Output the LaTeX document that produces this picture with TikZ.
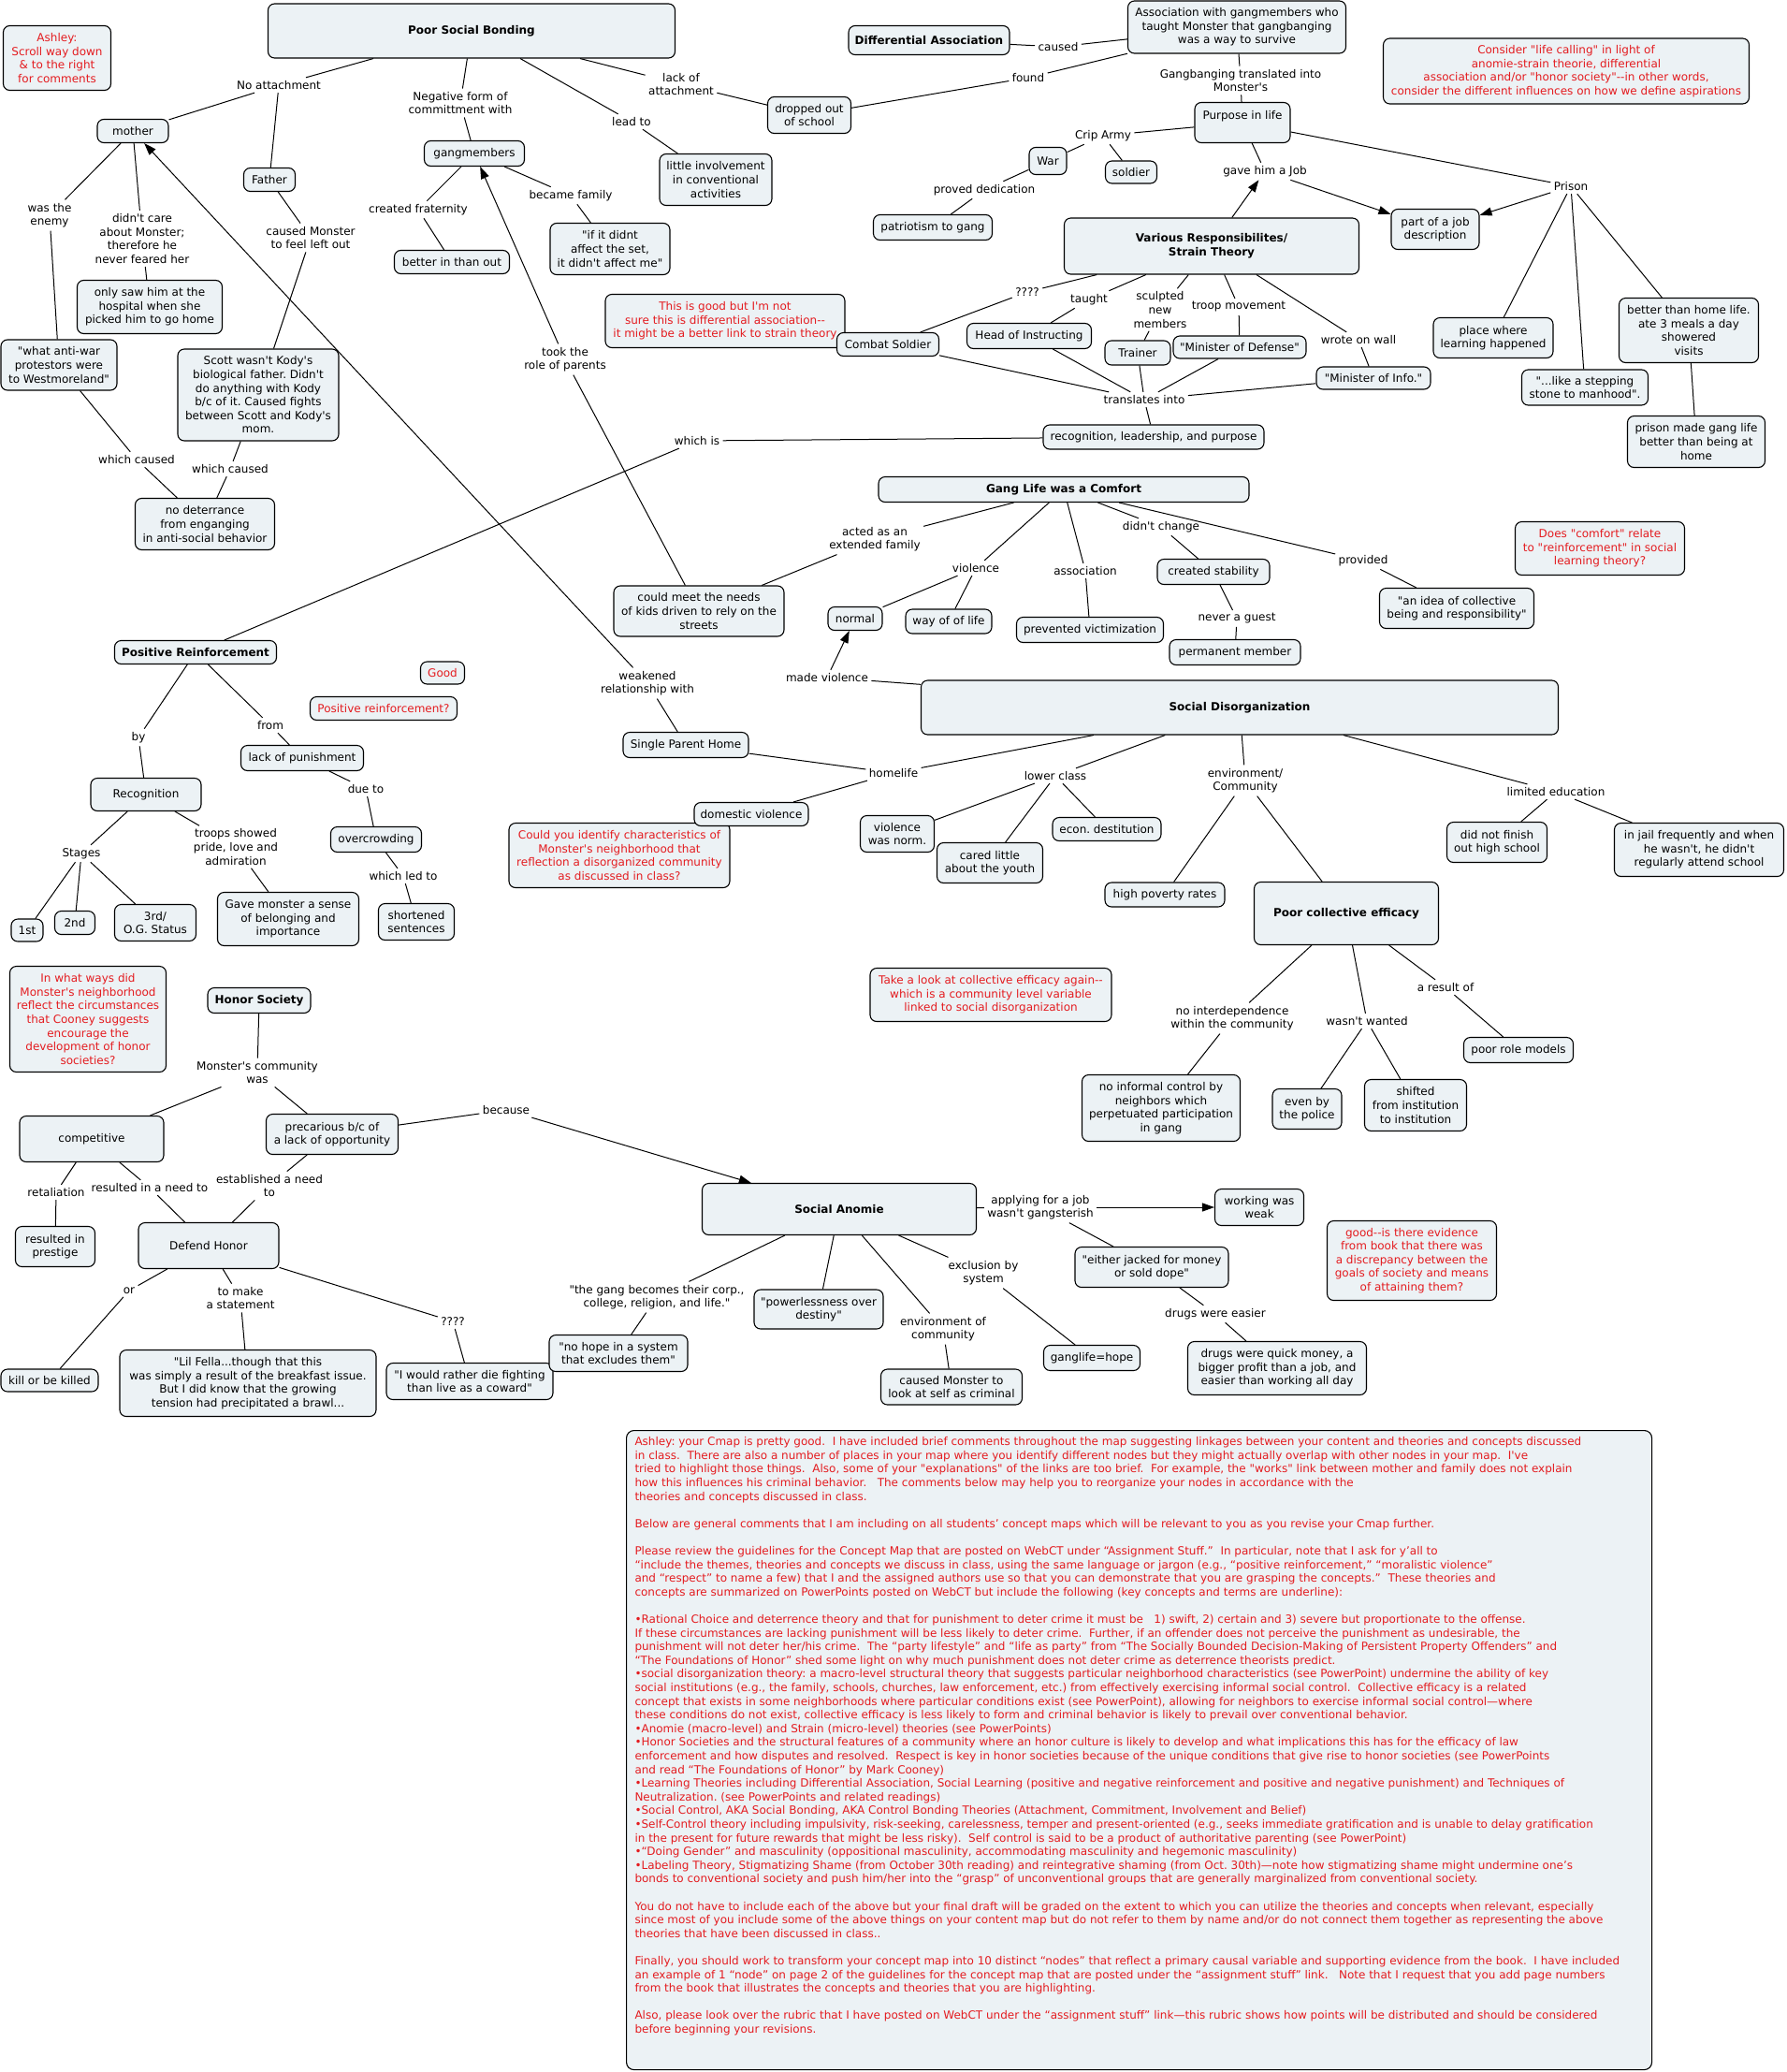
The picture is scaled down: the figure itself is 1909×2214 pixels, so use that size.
\documentclass[tikz,border=0pt]{standalone}
\usepackage{fontspec}
\usetikzlibrary{arrows.meta}
\newfontfamily\mapfont{DejaVu Sans}
\definecolor{nodefill}{RGB}{236,242,245}
\definecolor{notered}{RGB}{228,28,32}
\frenchspacing

\tikzset{every picture/.style={line width=1pt}}
\tikzset{
  concept/.style={draw, rounded corners=7pt, fill=nodefill, line width=1.1pt, align=center, inner sep=2pt, font=\mapfont\fontsize{12}{14.6}\selectfont},
  headbox/.style={concept, font=\mapfont\fontsize{12}{14.6}\selectfont\bfseries},
  redbox/.style={concept, text=notered},
  phrase/.style={align=center, inner sep=3pt, font=\mapfont\fontsize{12}{14.6}\selectfont},
  sz/.style 2 args={minimum width=#1pt, minimum height=#2pt},
  cline/.style={draw, line width=1pt},
  carrow/.style={cline, -{Triangle[length=13pt,width=9pt]}},
}

\begin{document}
\begin{tikzpicture}[x=1pt,y=1pt,yscale=-1,xscale=1]
\useasboundingbox (0,0) rectangle (1909,2214);

% Comment Nodes
\node [redbox, sz={115}{69}] (askscroll) at (61,62) {Ashley:\\Scroll way down\\\& to the right\\for comments};
\node [redbox, sz={391}{70}] (asklife) at (1674,76) {Consider "life calling" in light of\\anomie-strain theorie, differential\\association and/or "honor society"-{}-in other words,\\consider the different influences on how we define aspirations};
\node [redbox, sz={256}{57}] (askdiff) at (775,343) {This is good but I'm not\\sure this is differential association-{}-\\it might be a better link to strain theory};
\node [redbox, sz={181}{57}] (askcomfort) at (1710,586) {Does "comfort" relate\\to "reinforcement" in social\\learning theory?};
\node [redbox, sz={236}{69}] (askneigh) at (662,914) {Could you identify characteristics of\\Monster's neighborhood that\\reflection a disorganized community\\as discussed in class?};
\node [redbox, sz={47}{24}] (askgood) at (473,719) {Good};
\node [redbox, sz={157}{25}] (askposreinf) at (410,757) {Positive reinforcement?};
\node [redbox, sz={167}{113}] (askhonor) at (94,1089) {In what ways did\\Monster's neighborhood\\reflect the circumstances\\that Cooney suggests\\encourage the\\development of honor\\societies?};
\node [redbox, sz={258}{57}] (askefficacy) at (1059,1063) {Take a look at collective efficacy again-{}-\\which is a community level variable\\linked to social disorganization};
\node [redbox, sz={181}{85}] (askgoals) at (1509,1347) {good-{}-is there evidence\\from book that there was\\a discrepancy between the\\goals of society and means\\of attaining them?};

% Poor Social Bonding
\node [headbox, sz={435}{58}] (psb) at (504,33) {Poor Social Bonding};
\node [concept, sz={76}{25}] (mother) at (142,140) {mother};
\node [concept, sz={55}{25}] (father) at (288,192) {Father};
\node [concept, sz={107}{27}] (gangm) at (507,164) {gangmembers};
\node [concept, sz={123}{25}] (betterin) at (483,280) {better in than out};
\node [concept, sz={128}{55}] (ifit) at (652,266) {"if it didnt\\affect the set,\\it didn't affect me"};
\node [concept, sz={155}{57}] (onlysaw) at (160,328) {only saw him at the\\hospital when she\\picked him to go home};
\node [concept, sz={124}{54}] (antiwar) at (63,390) {"what anti-war\\protestors were\\to Westmoreland"};
\node [concept, sz={172}{98}] (scott) at (276,422) {Scott wasn't Kody's\\biological father. Didn't\\do anything with Kody\\b/c of it. Caused fights\\between Scott and Kody's\\mom.};
\node [concept, sz={149}{55}] (nodeter) at (219,560) {no deterrance\\from enganging\\in anti-social behavior};
\node [concept, sz={89}{39}] (dropped) at (865,123) {dropped out\\of school};
\node [concept, sz={120}{55}] (involve) at (765,192) {little involvement\\in conventional\\activities};

% Differential Association
\node [headbox, sz={172}{31}] (diffassoc) at (993,43) {Differential Association};
\node [concept, sz={233}{56}] (assocbox) at (1322,29) {Association with gangmembers who\\taught Monster that gangbanging\\was a way to survive};
\node [concept, sz={102}{43}, text depth=17pt] (purpose) at (1328,131) {Purpose in life};
\node [concept, sz={40}{29}] (war) at (1120,172) {War};
\node [concept, sz={55}{24}] (soldier) at (1209,184) {soldier};
\node [concept, sz={127}{27}] (patriot) at (997,243) {patriotism to gang};
\node [concept, sz={94}{43}] (jobdesc) at (1534,245) {part of a job\\description};
\node [concept, sz={128}{43}] (learning) at (1596,361) {place where\\learning happened};
\node [concept, sz={135}{38}] (stepping) at (1694,414) {"...like a stepping\\stone to manhood".};
\node [concept, sz={149}{69}] (homelife) at (1805,353) {better than home life.\\ate 3 meals a day\\showered\\visits};
\node [concept, sz={147}{55}] (prisonmade) at (1813,472) {prison made gang life\\better than being at\\home};

% Various Responsibilites
\node [headbox, sz={315}{60}] (strain) at (1295,263) {Various Responsibilites/\\Strain Theory};
\node [concept, sz={109}{25}] (combat) at (949,368) {Combat Soldier};
\node [concept, sz={133}{27}] (instruct) at (1100,359) {Head of Instructing};
\node [concept, sz={70}{26}] (trainer) at (1216,377) {Trainer};
\node [concept, sz={142}{24}] (defense) at (1325,371) {"Minister of Defense"};
\node [concept, sz={122}{24}] (info) at (1468,404) {"Minister of Info."};
\node [concept, sz={236}{26}] (recog) at (1233,467) {recognition, leadership, and purpose};

% Gang Life was a Comfort
\node [headbox, sz={396}{27}] (comfort) at (1137,523) {Gang Life was a Comfort};
\node [concept, sz={182}{54}] (needs) at (747,653) {could meet the needs\\of kids driven to rely on the\\streets};
\node [concept, sz={58}{25}] (normal) at (914,661) {normal};
\node [concept, sz={92}{26}] (wayoflife) at (1014,664) {way of of life};
\node [concept, sz={157}{27}] (victim) at (1165,673) {prevented victimization};
\node [concept, sz={120}{27}] (stability) at (1297,611) {created stability};
\node [concept, sz={140}{27}] (permanent) at (1320,697) {permanent member};
\node [concept, sz={165}{43}] (collective) at (1557,650) {"an idea of collective\\being and responsibility"};

% Social Disorganization
\node [headbox, sz={681}{58}] (disorg) at (1325,756) {Social Disorganization};
\node [concept, sz={134}{27}] (single) at (733,796) {Single Parent Home};
\node [concept, sz={122}{25}] (domestic) at (803,870) {domestic violence};
\node [concept, sz={79}{39}] (violnorm) at (959,891) {violence\\was norm.};
\node [concept, sz={113}{43}] (youth) at (1058,922) {cared little\\about the youth};
\node [concept, sz={116}{25}] (econ) at (1183,886) {econ. destitution};
\node [concept, sz={128}{26}] (poverty) at (1245,956) {high poverty rates};
\node [concept, sz={107}{43}] (finish) at (1600,900) {did not finish\\out high school};
\node [concept, sz={181}{57}] (jail) at (1816,908) {in jail frequently and when\\he wasn't, he didn't\\regularly attend school};
\node [headbox, sz={197}{67}] (efficacy) at (1439,976) {Poor collective efficacy};
\node [concept, sz={169}{71}] (informal) at (1241,1184) {no informal control by\\neighbors which\\perpetuated participation\\in gang};
\node [concept, sz={74}{43}] (police) at (1397,1185) {even by\\the police};
\node [concept, sz={109}{55}] (shifted) at (1513,1181) {shifted\\from institution\\to institution};
\node [concept, sz={117}{27}] (rolemodels) at (1623,1122) {poor role models};

% Positive Reinforcement
\node [headbox, sz={173}{25}] (posreinf) at (209,697) {Positive Reinforcement};
\node [concept, sz={131}{27}] (lackpun) at (323,810) {lack of punishment};
\node [concept, sz={118}{35}] (recognition) at (156,849) {Recognition};
\node [concept, sz={97}{27}] (overcrowd) at (402,897) {overcrowding};
\node [concept, sz={34}{24}] (first) at (29,994) {1st};
\node [concept, sz={43}{25}] (second) at (80,986) {2nd};
\node [concept, sz={87}{39}] (third) at (166,986) {3rd/\\O.G. Status};
\node [concept, sz={151}{57}] (belonging) at (308,982) {Gave monster a sense\\of belonging and\\importance};
\node [concept, sz={81}{39}] (shortened) at (445,985) {shortened\\sentences};

% Honor Society
\node [headbox, sz={110}{27}] (honor) at (277,1069) {Honor Society};
\node [concept, sz={154}{49}] (competitive) at (98,1217) {competitive};
\node [concept, sz={141}{43}] (precarious) at (355,1212) {precarious b/c of\\a lack of opportunity};
\node [concept, sz={85}{43}] (prestige) at (59,1332) {resulted in\\prestige};
\node [concept, sz={150}{49}] (defend) at (223,1331) {Defend Honor};
\node [concept, sz={104}{24}] (killed) at (53,1475) {kill or be killed};
\node [concept, sz={274}{71}] (lilfella) at (265,1478) {"Lil Fella...though that this\\was simply a result of the breakfast issue.\\But I did know that the growing\\tension had precipitated a brawl...};
\node [concept, sz={178}{39}] (coward) at (502,1476) {"I would rather die fighting\\than live as a coward"};

% Social Anomie
\node [headbox, sz={293}{55}] (anomie) at (897,1292) {Social Anomie};
\node [concept, sz={148}{39}] (nohope) at (661,1446) {"no hope in a system\\that excludes them"};
\node [concept, sz={138}{42}] (powerless) at (875,1399) {"powerlessness over\\destiny"};
\node [concept, sz={151}{38}] (criminal) at (1017,1482) {caused Monster to\\look at self as criminal};
\node [concept, sz={103}{27}] (hope) at (1167,1451) {ganglife=hope};
\node [concept, sz={95}{39}] (weak) at (1346,1290) {working was\\weak};
\node [concept, sz={164}{43}] (jacked) at (1231,1354) {"either jacked for money\\or sold dope"};
\node [concept, sz={191}{57}] (quick) at (1365,1462) {drugs were quick money, a\\bigger profit than a job, and\\easier than working all day};

% Linking Phrases
\node [phrase] (pNoAtt) at (298,91) {No attachment};
\node [phrase] (pNegative) at (492,110) {Negative form of\\committment with};
\node [phrase] (pLeadTo) at (675,130) {lead to};
\node [phrase] (pLackAtt) at (728,90) {lack of\\attachment};
\node [phrase] (pEnemy) at (53,230) {was the\\enemy};
\node [phrase] (pCare) at (152,255) {didn't care\\about Monster;\\therefore he\\never feared her};
\node [phrase] (pLeftOut) at (332,254) {caused Monster\\to feel left out};
\node [phrase] (pWhichA) at (146,491) {which caused};
\node [phrase] (pWhichB) at (246,501) {which caused};
\node [phrase] (pFrat) at (447,224) {created fraternity};
\node [phrase] (pFamily) at (610,209) {became family};
\node [phrase] (pParents) at (604,384) {took the\\role of parents};
\node [phrase] (pExtFam) at (935,576) {acted as an\\extended family};
\node [phrase] (pWeakened) at (692,730) {weakened\\relationship with};
\node [phrase] (pHome) at (955,826) {homelife};
\node [phrase] (pLower) at (1128,829) {lower class};
\node [phrase] (pEnv) at (1331,834) {environment/\\Community};
\node [phrase] (pEdu) at (1663,846) {limited education};
\node [phrase] (pMadeViol) at (884,724) {made violence};
\node [phrase] (pViol) at (1043,607) {violence};
\node [phrase] (pAssoc) at (1160,610) {association};
\node [phrase] (pChange) at (1241,563) {didn't change};
\node [phrase] (pGuest) at (1322,661) {never a guest};
\node [phrase] (pProvided) at (1457,599) {provided};
\node [phrase] (pWhichIs) at (745,471) {which is};
\node [phrase] (pQueryA) at (1098,312) {????};
\node [phrase] (pTaught) at (1164,320) {taught};
\node [phrase] (pSculpt) at (1240,331) {sculpted\\new\\members};
\node [phrase] (pTroop) at (1324,328) {troop movement};
\node [phrase] (pWall) at (1452,363) {wrote on wall};
\node [phrase] (pJob) at (1352,183) {gave him a Job};
\node [phrase] (pTrans) at (1223,427) {translates into};
\node [phrase] (pGangTrans) at (1326,86) {Gangbanging translated into\\Monster's};
\node [phrase] (pCrip) at (1179,145) {Crip Army};
\node [phrase] (pDedic) at (1052,203) {proved dedication};
\node [phrase] (pPrison) at (1679,199) {Prison};
\node [phrase] (pCaused) at (1131,50) {caused};
\node [phrase] (pFound) at (1099,83) {found};
\node [phrase] (pBy) at (148,788) {by};
\node [phrase] (pFrom) at (289,775) {from};
\node [phrase] (pDue) at (391,843) {due to};
\node [phrase] (pLed) at (431,936) {which led to};
\node [phrase] (pStages) at (87,912) {Stages};
\node [phrase] (pTroops) at (252,905) {troops showed\\pride, love and\\admiration};
\node [phrase] (pCommunity) at (275,1146) {Monster's community\\was};
\node [phrase] (pBecause) at (541,1186) {because};
\node [phrase] (pRetal) at (60,1274) {retaliation};
\node [phrase] (pResulted) at (160,1269) {resulted in a need to};
\node [phrase] (pEstab) at (288,1267) {established a need\\to};
\node [phrase] (pOr) at (138,1379) {or};
\node [phrase] (pStatement) at (257,1387) {to make\\a statement};
\node [phrase] (pQueryB) at (484,1412) {????};
\node [phrase] (pCorp) at (702,1386) {"the gang becomes their corp.,\\college, religion, and life."};
\node [phrase] (pEnvComm) at (1008,1420) {environment of\\community};
\node [phrase] (pExcl) at (1051,1360) {exclusion by\\system};
\node [phrase] (pApply) at (1112,1290) {applying for a job\\wasn't gangsterish};
\node [phrase] (pDrugs) at (1299,1404) {drugs were easier};
\node [phrase] (pInterdep) at (1317,1088) {no interdependence\\within the community};
\node [phrase] (pWanted) at (1461,1091) {wasn't wanted};
\node [phrase] (pResult) at (1545,1055) {a result of};

%Straight Lines
\draw [cline] (psb) -- (pNoAtt) (pNoAtt) -- (mother) (pNoAtt) -- (father);
\draw [cline] (psb) -- (pNegative) -- (gangm);
\draw [cline] (psb) -- (pLeadTo) -- (involve);
\draw [cline] (psb) -- (pLackAtt) -- (dropped);
\draw [cline] (mother) -- (pEnemy) -- (antiwar);
\draw [cline] (mother) -- (pCare) -- (onlysaw);
\draw [cline] (father) -- (pLeftOut) -- (scott);
\draw [cline] (antiwar) -- (pWhichA) -- (nodeter);
\draw [cline] (scott) -- (pWhichB) -- (nodeter);
\draw [cline] (gangm) -- (pFrat) -- (betterin);
\draw [cline] (gangm) -- (pFamily) -- (ifit);
\draw [cline] (needs) -- (pParents);
\draw [carrow] (pParents) -- (gangm);
\draw [cline] (comfort) -- (pExtFam) -- (needs);
\draw [cline] (single) -- (pWeakened);
\draw [carrow] (pWeakened) -- (mother);
%Straight Lines
\draw [cline] (disorg) -- (pHome) (pHome) -- (single) (pHome) -- (domestic);
\draw [cline] (disorg) -- (pLower) (pLower) -- (violnorm) (pLower) -- (youth) (pLower) -- (econ);
\draw [cline] (disorg) -- (pEnv) (pEnv) -- (poverty) (pEnv) -- (efficacy);
\draw [cline] (disorg) -- (pEdu) (pEdu) -- (finish) (pEdu) -- (jail);
\draw [cline] (disorg) -- (pMadeViol);
\draw [carrow] (pMadeViol) -- (normal);
\draw [cline] (comfort) -- (pViol) (pViol) -- (normal) (pViol) -- (wayoflife);
\draw [cline] (comfort) -- (pAssoc) -- (victim);
\draw [cline] (comfort) -- (pChange) -- (stability);
\draw [cline] (stability) -- (pGuest) -- (permanent);
\draw [cline] (comfort) -- (pProvided) -- (collective);
\draw [cline] (recog) -- (pWhichIs) -- (posreinf);
%Straight Lines
\draw [cline] (strain) -- (pQueryA) -- (combat);
\draw [cline] (strain) -- (pTaught) -- (instruct);
\draw [cline] (strain) -- (pSculpt) -- (trainer);
\draw [cline] (strain) -- (pTroop) -- (defense);
\draw [cline] (strain) -- (pWall) -- (info);
\draw [carrow] (strain) -- (pJob);
\draw [cline] (combat) -- (pTrans) (instruct) -- (pTrans) (trainer) -- (pTrans) (defense) -- (pTrans) (info) -- (pTrans) (pTrans) -- (recog);
\draw [cline] (assocbox) -- (pGangTrans) -- (purpose);
\draw [cline] (purpose) -- (pCrip) (pCrip) -- (war) (pCrip) -- (soldier);
\draw [cline] (war) -- (pDedic) -- (patriot);
\draw [cline] (purpose) -- (pJob);
\draw [carrow] (pJob) -- (jobdesc);
\draw [cline] (purpose) -- (pPrison);
\draw [carrow] (pPrison) -- (jobdesc);
\draw [cline] (pPrison) -- (learning) (pPrison) -- (stepping) (pPrison) -- (homelife);
\draw [cline] (homelife) -- (prisonmade);
\draw [cline] (diffassoc) -- (pCaused) -- (assocbox);
\draw [cline] (assocbox) -- (pFound) -- (dropped);
%Straight Lines
\draw [cline] (posreinf) -- (pBy) -- (recognition);
\draw [cline] (posreinf) -- (pFrom) -- (lackpun);
\draw [cline] (lackpun) -- (pDue) -- (overcrowd);
\draw [cline] (overcrowd) -- (pLed) -- (shortened);
\draw [cline] (recognition) -- (pStages) (pStages) -- (first) (pStages) -- (second) (pStages) -- (third);
\draw [cline] (recognition) -- (pTroops) -- (belonging);
%Straight Lines
\draw [cline] (honor) -- (pCommunity) (pCommunity) -- (competitive) (pCommunity) -- (precarious);
\draw [cline] (precarious) -- (pBecause);
\draw [carrow] (pBecause) -- (anomie);
\draw [cline] (competitive) -- (pRetal) -- (prestige);
\draw [cline] (competitive) -- (pResulted) -- (defend);
\draw [cline] (precarious) -- (pEstab) -- (defend);
\draw [cline] (defend) -- (pOr) -- (killed);
\draw [cline] (defend) -- (pStatement) -- (lilfella);
\draw [cline] (defend) -- (pQueryB) -- (coward);
%Straight Lines
\draw [cline] (anomie) -- (pCorp) -- (nohope);
\draw [cline] (anomie) -- (powerless);
\draw [cline] (anomie) -- (pEnvComm) -- (criminal);
\draw [cline] (anomie) -- (pExcl) -- (hope);
\draw [cline] (anomie) -- (pApply) (pApply) -- (jacked);
\draw [carrow] (pApply) -- (weak);
\draw [cline] (jacked) -- (pDrugs) -- (quick);
\draw [cline] (efficacy) -- (pInterdep) -- (informal);
\draw [cline] (efficacy) -- (pWanted) (pWanted) -- (police) (pWanted) -- (shifted);
\draw [cline] (efficacy) -- (pResult) -- (rolemodels);

% Instructor Notes
\node [concept, sz={1096}{683}, anchor=north west, rounded corners=8pt] (notes) at (669,1528) {};
\node [phrase, text=notered, align=left, anchor=north west, inner sep=0pt] (notestext) at (678,1535) {Ashley: your Cmap is pretty good.~ I have included brief comments throughout the map suggesting linkages between your content and theories and concepts discussed\\
in class.~ There are also a number of places in your map where you identify different nodes but they might actually overlap with other nodes in your map.~ I've\\
tried to highlight those things.~ Also, some of your "explanations" of the links are too brief.~ For example, the "works" link between mother and family does not explain\\
how this influences his criminal behavior.~~ The comments below may help you to reorganize your nodes in accordance with the\\
theories and concepts discussed in class.\\[14.6pt]
Below are general comments that I am including on all students’ concept maps which will be relevant to you as you revise your Cmap further.\\[14.6pt]
Please review the guidelines for the Concept Map that are posted on WebCT under “Assignment Stuff.”~ In particular, note that I ask for y’all to\\
“include the themes, theories and concepts we discuss in class, using the same language or jargon (e.g., “positive reinforcement,” “moralistic violence”\\
and “respect” to name a few) that I and the assigned authors use so that you can demonstrate that you are grasping the concepts.”~ These theories and\\
concepts are summarized on PowerPoints posted on WebCT but include the following (key concepts and terms are underline):\\[14.6pt]
•Rational Choice and deterrence theory and that for punishment to deter crime it must be~~ 1) swift, 2) certain and 3) severe but proportionate to the offense.\\
If these circumstances are lacking punishment will be less likely to deter crime.~ Further, if an offender does not perceive the punishment as undesirable, the\\
punishment will not deter her/his crime.~ The “party lifestyle” and “life as party” from “The Socially Bounded Decision-Making of Persistent Property Offenders” and\\
“The Foundations of Honor” shed some light on why much punishment does not deter crime as deterrence theorists predict.\\
•social disorganization theory: a macro-level structural theory that suggests particular neighborhood characteristics (see PowerPoint) undermine the ability of key\\
social institutions (e.g., the family, schools, churches, law enforcement, etc.) from effectively exercising informal social control.~ Collective efficacy is a related\\
concept that exists in some neighborhoods where particular conditions exist (see PowerPoint), allowing for neighbors to exercise informal social control—where\\
these conditions do not exist, collective efficacy is less likely to form and criminal behavior is likely to prevail over conventional behavior.\\
•Anomie (macro-level) and Strain (micro-level) theories (see PowerPoints)\\
•Honor Societies and the structural features of a community where an honor culture is likely to develop and what implications this has for the efficacy of law\\
enforcement and how disputes and resolved.~ Respect is key in honor societies because of the unique conditions that give rise to honor societies (see PowerPoints\\
and read “The Foundations of Honor” by Mark Cooney)\\
•Learning Theories including Differential Association, Social Learning (positive and negative reinforcement and positive and negative punishment) and Techniques of\\
Neutralization. (see PowerPoints and related readings)\\
•Social Control, AKA Social Bonding, AKA Control Bonding Theories (Attachment, Commitment, Involvement and Belief)\\
•Self-Control theory including impulsivity, risk-seeking, carelessness, temper and present-oriented (e.g., seeks immediate gratification and is unable to delay gratification\\
in the present for future rewards that might be less risky).~ Self control is said to be a product of authoritative parenting (see PowerPoint)\\
•“Doing Gender” and masculinity (oppositional masculinity, accommodating masculinity and hegemonic masculinity)\\
•Labeling Theory, Stigmatizing Shame (from October 30th reading) and reintegrative shaming (from Oct. 30th)—note how stigmatizing shame might undermine one’s\\
bonds to conventional society and push him/her into the “grasp” of unconventional groups that are generally marginalized from conventional society.\\[14.6pt]
You do not have to include each of the above but your final draft will be graded on the extent to which you can utilize the theories and concepts when relevant, especially\\
since most of you include some of the above things on your content map but do not refer to them by name and/or do not connect them together as representing the above\\
theories that have been discussed in class..\\[14.6pt]
Finally, you should work to transform your concept map into 10 distinct “nodes” that reflect a primary causal variable and supporting evidence from the book.~ I have included\\
an example of 1 “node” on page 2 of the guidelines for the concept map that are posted under the “assignment stuff” link.~~ Note that I request that you add page numbers\\
from the book that illustrates the concepts and theories that you are highlighting.\\[14.6pt]
Also, please look over the rubric that I have posted on WebCT under the “assignment stuff” link—this rubric shows how points will be distributed and should be considered\\
before beginning your revisions.};
\end{tikzpicture}
\end{document}
